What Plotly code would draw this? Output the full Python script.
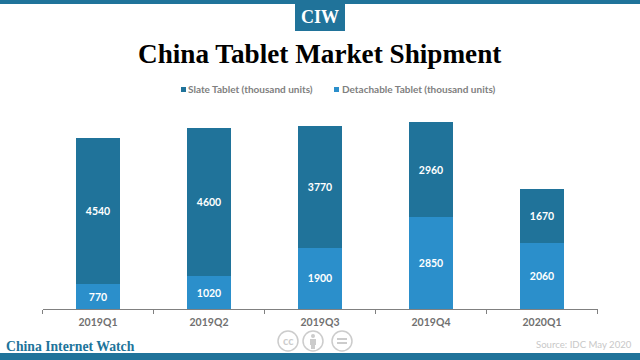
import plotly.graph_objects as go

categories = ["2019Q1", "2019Q2", "2019Q3", "2019Q4", "2020Q1"]
detachable = [770, 1020, 1900, 2850, 2060]
slate = [4540, 4600, 3770, 2960, 1670]

DARK = "#20739A"
LIGHT = "#2B8FCB"
W, H = 640, 360


def px(x):
    return x / W


def py(y):
    return 1 - y / H


fig = go.Figure()
fig.add_bar(name="Detachable Tablet (thousand units)", x=categories, y=detachable,
            marker=dict(color=LIGHT, line_width=0), text=detachable, textposition="inside",
            insidetextanchor="middle", textangle=0, showlegend=False,
            textfont=dict(family="Lato", size=10.5, color="white", weight="bold"))
fig.add_bar(name="Slate Tablet (thousand units)", x=categories, y=slate,
            marker=dict(color=DARK, line_width=0), text=slate, textposition="inside",
            insidetextanchor="middle", textangle=0, showlegend=False,
            textfont=dict(family="Lato", size=10.5, color="white", weight="bold"))

GREY = "#CCCCCC"


def box(x0, y0, x1, y1, color, kind="rect", line=None):
    return dict(type=kind, xref="paper", yref="paper", x0=px(x0), x1=px(x1), y0=py(y1), y1=py(y0),
                fillcolor=color, line=line or dict(width=0), layer="above")


shapes = [
    box(0, 0, 640, 4, DARK),
    box(0, 353, 640, 360, DARK),
    box(295, 4, 345, 31, DARK),
    box(181, 87, 186, 92, DARK),
    box(334, 87, 339, 92, LIGHT),
]
for cx in (288, 313, 342):
    shapes.append(box(cx - 10, 331, cx + 10, 351, "white", kind="circle",
                      line=dict(color=GREY, width=1.5)))
shapes += [
    box(311, 334, 315, 338, GREY, kind="circle"),
    box(310, 339, 316, 345, GREY),
    box(311, 345, 315, 349, GREY),
    box(337, 338, 347, 340, GREY),
    box(337, 342, 347, 344, GREY),
]

SERIF = "Liberation Serif"


def note(text, x, y, size, color, family="Lato", anchor="center", weight="normal"):
    return dict(text=text, x=px(x), y=py(y), xref="paper", yref="paper", showarrow=False,
                xanchor=anchor, yanchor="middle",
                font=dict(family=family, size=size, color=color, weight=weight))


annotations = [
    note("CIW", 320, 17, 18, "white", family=SERIF, weight="bold"),
    note("China Tablet Market Shipment", 319, 54, 27.2, "black", family=SERIF, weight="bold"),
    note("Slate Tablet (thousand units)", 186, 89, 10, "#808080", anchor="left", weight="bold"),
    note("Detachable Tablet (thousand units)", 339.5, 89, 10, "#808080", anchor="left", weight="bold"),
    note("China Internet Watch", 4, 346, 13.7, DARK, family=SERIF, anchor="left", weight="bold"),
    note("Source: IDC May 2020", 634, 344, 9.6, "#C8C8C8", anchor="right"),
    note("cc", 288, 340, 11, GREY, weight="bold"),
]

fig.update_layout(
    width=W, height=H, autosize=False, barmode="stack", bargap=0.6,
    margin=dict(l=0, r=0, t=0, b=0), paper_bgcolor="white", plot_bgcolor="white",
    shapes=shapes, annotations=annotations,
    xaxis=dict(domain=[px(42.5), px(597.5)], type="category", tickson="boundaries", ticks="outside",
               ticklen=4, tickcolor="#808080", showline=True, linecolor="#808080", linewidth=1,
               showgrid=False, ticklabelstandoff=3,
               tickfont=dict(family="Lato", size=10.5, color="#707070", weight="bold")),
    yaxis=dict(domain=[py(309), py(115.8)], range=[0, 6000], visible=False, showgrid=False),
)
fig.write_html("out.html", config=dict(displayModeBar=False),
               post_script="document.body.style.margin='0';document.body.style.overflow='hidden';")
